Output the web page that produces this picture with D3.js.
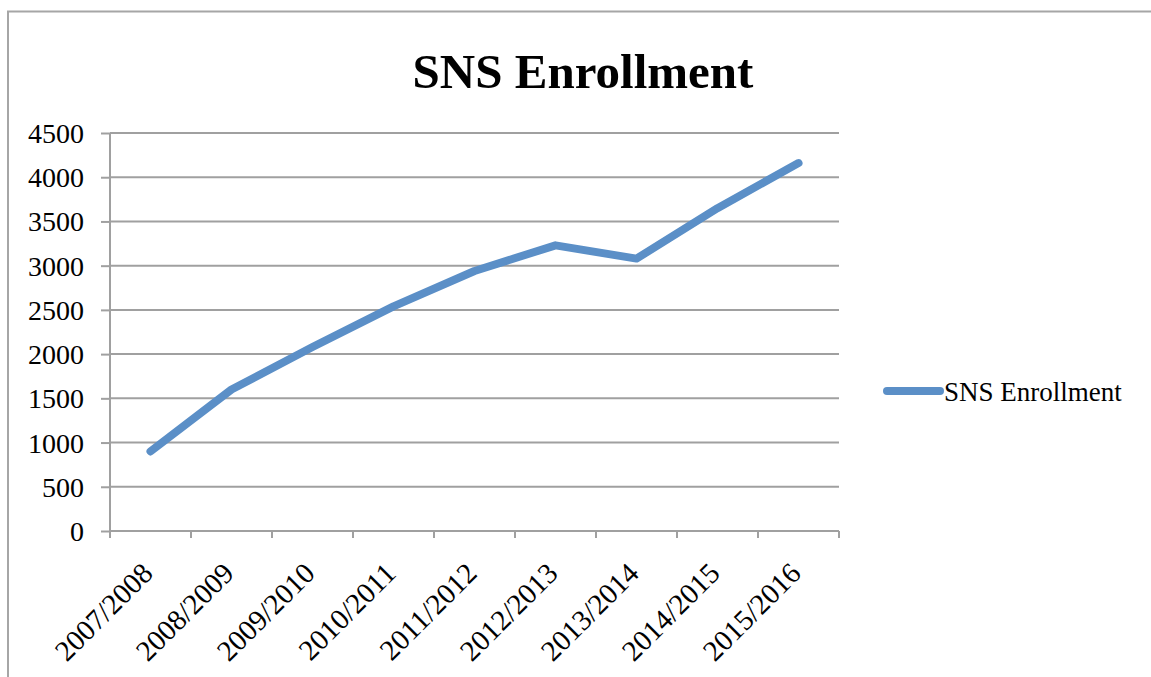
<!DOCTYPE html>
<html><head><meta charset="utf-8">
<script src="https://cdn.jsdelivr.net/npm/d3@7"></script>
<style>body{margin:0;background:#fff}svg{display:block}</style>
</head><body>
<svg id="c" width="1151" height="677"></svg>
<script>
const categories = ["2007/2008","2008/2009","2009/2010","2010/2011","2011/2012","2012/2013","2013/2014","2014/2015","2015/2016"];
const values = [900,1600,2080,2540,2940,3230,3080,3650,4160];
const yTicks = [0,500,1000,1500,2000,2500,3000,3500,4000,4500];
const seriesName = "SNS Enrollment";
const title = "SNS Enrollment";

const svg = d3.select("#c");
const font = "'Liberation Serif', serif";
const grid = "#a0a0a0";
const lineColor = "#5b8fc7";

// outer frame
svg.append("path").attr("d","M8,677 V11.5 H1151").attr("fill","none").attr("stroke","#a6a6a6").attr("stroke-width",2);

const x = d3.scaleBand().domain(categories).range([110,839]);
const y = d3.scaleLinear().domain([0,4500]).range([531,133]);

// gridlines
svg.append("g").selectAll("line").data(yTicks.slice(1)).join("line")
  .attr("x1",110).attr("x2",839).attr("y1",d=>y(d)).attr("y2",d=>y(d))
  .attr("stroke",grid).attr("stroke-width",2);

// y axis
const ya = svg.append("g").attr("transform","translate(110,0)")
  .call(d3.axisLeft(y).tickValues(yTicks).tickSize(9).tickPadding(17).tickFormat(d3.format("d")));
ya.select(".domain").attr("stroke",grid).attr("stroke-width",2).attr("d","M0,531V133");
ya.selectAll(".tick line").attr("stroke",grid).attr("stroke-width",2);
ya.selectAll("text").attr("font-family",font).attr("font-size",28).attr("fill","#000").attr("dy","0.34em");

// x axis
const xa = svg.append("g").attr("transform","translate(0,531)")
  .call(d3.axisBottom(x).tickSize(0).tickFormat(d=>d));
xa.select(".domain").remove();
xa.selectAll(".tick line").remove();
const bounds = [x.range()[0]].concat(categories.map(c=>x(c)+x.bandwidth()));
xa.append("g").selectAll("line").data(bounds).join("line")
  .attr("x1",d=>d).attr("x2",d=>d).attr("y1",0).attr("y2",7).attr("stroke",grid).attr("stroke-width",2);
xa.append("line").attr("x1",110).attr("x2",839).attr("stroke",grid).attr("stroke-width",2);
xa.selectAll(".tick text")
  .attr("font-family",font).attr("font-size",29).attr("fill","#000")
  .attr("text-anchor","end").attr("dy",null).attr("y",0)
  .attr("transform","translate(4,44) rotate(-45)");

// line
const line = d3.line().x((d,i)=>x(categories[i])+x.bandwidth()/2).y(d=>y(d));
svg.append("path").datum(values).attr("d",line).attr("fill","none")
  .attr("stroke",lineColor).attr("stroke-width",8).attr("stroke-linecap","round").attr("stroke-linejoin","round");

// title
svg.append("text").attr("x",583).attr("y",88).attr("text-anchor","middle")
  .attr("font-family",font).attr("font-weight","bold").attr("font-size",49).text(title);

// legend
svg.append("line").attr("x1",887).attr("x2",940).attr("y1",391).attr("y2",391)
  .attr("stroke",lineColor).attr("stroke-width",8).attr("stroke-linecap","round");
svg.append("text").attr("x",944).attr("y",401).attr("font-family",font).attr("font-size",27).text(seriesName);
</script>
</body></html>
